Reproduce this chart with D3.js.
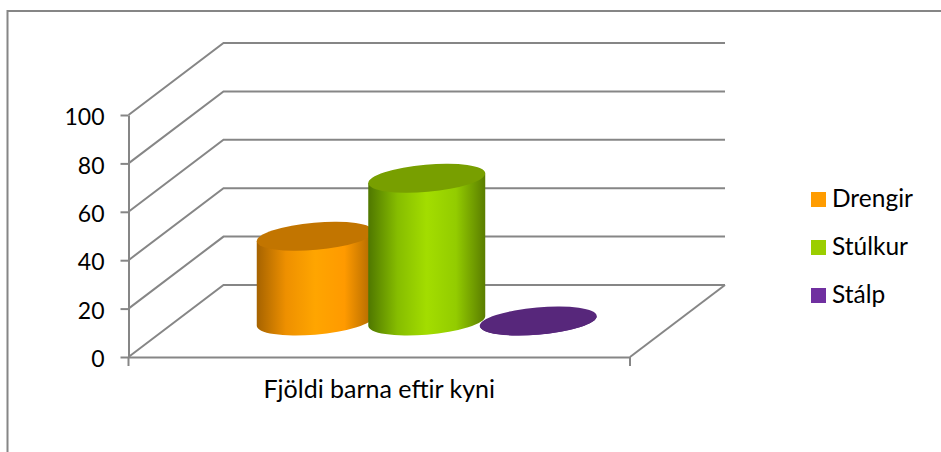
<!DOCTYPE html>
<html>
<head>
<meta charset="utf-8">
<script src="https://cdnjs.cloudflare.com/ajax/libs/d3/7.8.5/d3.min.js"></script>
<style>
    html, body { margin: 0; padding: 0; background: #fff; }
    svg { display: block; font-family: Lato, sans-serif; fill: #000; }
    .axis path, .axis line, .grid { stroke: #868686; stroke-width: 2; fill: none; }
</style>
</head>
<body>
<div id="chart"></div>
<script>
// values
let categories = ["Fjöldi barna eftir kyni"];
let seriesNames = ["Drengir", "Stúlkur", "Stálp"];
let seriesValues = [35, 59, 0];
let yTicks = [0, 20, 40, 60, 80, 100];

// colours: [dark edge, mid, bright, mid, dark edge], then lid and legend
let seriesSides = [
    ["#a66300", "#ee9000", "#ffa500", "#ff9a00", "#ad6700"],
    ["#4f7700", "#86bd00", "#a3dd00", "#93cc00", "#5a7d00"],
    ["#4a2268", "#5f2c85", "#6a3095", "#5f2c85", "#4a2268"]
];
let seriesTops = ["#c27500", "#789f00", "#57277b"];
let seriesLegend = ["#ff9c00", "#9bce00", "#7030a0"];

let width = 941, height = 452;

// the floor is a sheared rectangle, this is the depth of it
let depth = {x: 95, y: -72};

let svg = d3.select("#chart").append("svg")
    .attr("width", width)
    .attr("height", height);

let x = d3.scaleBand().domain(categories).range([128.5, 630]);
let y = d3.scaleLinear().domain([0, 100]).range([357, 115]);

// bars stand in the middle of the floor
let xSeries = d3.scalePoint()
    .domain(seriesNames)
    .range([x.bandwidth() / 2 - 111.5, x.bandwidth() / 2 + 111.5]);

// chart frame, cut off at the right and at the bottom
svg.append("path")
    .attr("class", "grid")
    .attr("d", "M7.5,452V11H941");

// back wall and side wall lines
svg.selectAll(".wall")
    .data(yTicks)
    .enter().append("path")
    .attr("class", "grid wall")
    .attr("d", d => {
        let back = [x.range()[0] + depth.x, y(d) + depth.y];
        return `M${x.range()[0]},${y(d)}L${back[0]},${back[1]}H725`;
    });

// right edge of the floor
svg.append("path")
    .attr("class", "grid")
    .attr("d", `M${x.range()[1]},${y(0)}L725,${y(0) + depth.y}`);

// axes
let yAxis = svg.append("g")
    .attr("class", "axis")
    .attr("transform", `translate(${x.range()[0]},0)`)
    .call(d3.axisLeft(y).tickValues(yTicks).tickSize(8).tickPadding(16).tickSizeOuter(0));

let xAxis = svg.append("g")
    .attr("class", "axis")
    .attr("transform", `translate(0,${y(0)})`)
    .call(d3.axisBottom(x).tickSize(0).tickPadding(23));

xAxis.selectAll(".edge")
    .data(x.range())
    .enter().append("line")
    .attr("class", "edge")
    .attr("x1", d => d)
    .attr("x2", d => d)
    .attr("y1", 0)
    .attr("y2", 9);

svg.selectAll(".axis text")
    .attr("font-family", "Lato, sans-serif")
    .attr("fill", "#000");
yAxis.selectAll("text").attr("font-size", 23).attr("dy", "0.42em");
xAxis.selectAll("text").attr("font-size", 25);

// gradients for the round sides
let defs = svg.append("defs");
seriesNames.forEach((name, i) => {
    let grad = defs.append("linearGradient")
        .attr("id", "side" + i)
        .attr("x1", "0%")
        .attr("x2", "100%")
        .attr("y1", "0%")
        .attr("y2", "0%");
    grad.selectAll("stop")
        .data(seriesSides[i])
        .enter().append("stop")
        .attr("offset", (d, k) => [0, 0.25, 0.5, 0.75, 1][k] * 100 + "%")
        .attr("stop-color", d => d);
});

// cylinders, the ellipses lean a few degrees because of the rotation
let rx = 58.7, ry = 13.6, tilt = -5;
let phi = tilt * Math.PI / 180;
let halfW = Math.sqrt(rx * rx * Math.cos(phi) ** 2 + ry * ry * Math.sin(phi) ** 2);
let edgeY = (rx * rx - ry * ry) * Math.sin(phi) * Math.cos(phi) / halfW;

let bars = svg.selectAll(".bar")
    .data(seriesNames.map((name, i) => ({name: name, value: seriesValues[i], i: i})))
    .enter().append("g")
    .attr("class", "bar")
    .attr("transform", `translate(${depth.x / 2},${depth.y / 2})`);

bars.append("path")
    .attr("fill", d => `url(#side${d.i})`)
    .attr("d", d => {
        let cx = x(categories[0]) + xSeries(d.name);
        return `M${cx - halfW},${y(d.value) - edgeY}` +
            `L${cx - halfW},${y(0) - edgeY}` +
            `A${rx},${ry} ${tilt} 0 0 ${cx + halfW},${y(0) + edgeY}` +
            `L${cx + halfW},${y(d.value) + edgeY}Z`;
    });

bars.append("ellipse")
    .attr("rx", rx)
    .attr("ry", ry)
    .attr("fill", d => seriesTops[d.i])
    .attr("transform", d => `translate(${x(categories[0]) + xSeries(d.name)},${y(d.value)}) rotate(${tilt})`);

// legend
let legend = svg.selectAll(".legend")
    .data(seriesNames)
    .enter().append("g")
    .attr("class", "legend")
    .attr("transform", (d, i) => `translate(811,${192 + i * 48})`);

legend.append("rect")
    .attr("width", 15)
    .attr("height", 15)
    .attr("fill", (d, i) => seriesLegend[i]);

legend.append("text")
    .attr("x", 21)
    .attr("y", 15)
    .attr("font-size", 24.5)
    .text(d => d);
</script>
</body>
</html>
